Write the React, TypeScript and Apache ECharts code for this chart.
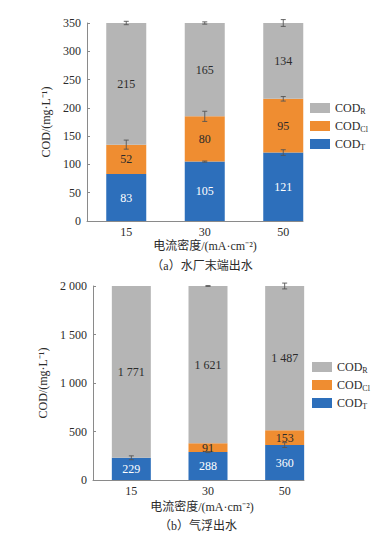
import React, { useEffect, useRef } from "react";
import * as echarts from "echarts";

const categories = ["15", "30", "50"];

// (a) 水厂末端出水
const aT = [83, 105, 121];
const aCl = [52, 80, 95];
const aR = [215, 165, 134];
const aErrT = [0, 1, 5];
const aErrCl = [8, 9, 4];
const aErrR = [3, 2, 6];
const aTicks = [0, 50, 100, 150, 200, 250, 300, 350];

// (b) 气浮出水
const bT = [229, 288, 360];
const bCl = [0, 91, 153];
const bR = [1771, 1621, 1487];
const bErrT = [20, 5, 25];
const bErrCl = [0, 0, 0];
const bErrR = [0, 4, 30];
const bTicks = [0, 500, 1000, 1500, 2000];

const xLabel = "电流密度/(mA·cm⁻²)";
const yLabel = "COD/(mg·L⁻¹)";
const titleA = "（a）水厂末端出水";
const titleB = "（b）气浮出水";

const FONT = "Liberation Serif, Times New Roman, Noto Sans CJK SC, serif";
const C_R = "#b5b5b5";
const C_CL = "#ef8d31";
const C_T = "#2d6fbb";
const AXIS = "#8a8a8a";
const TXT = "#2b2b2b";

const fmt = (v: number) => String(v).replace(/\B(?=(\d{3})+(?!\d))/g, " ");

const legendFormatter = (name: string) => {
  const sub = name.split("_")[1];
  return `{a|COD}{s|${sub}}`;
};

function buildPanel(
  gi: number,
  T: number[],
  Cl: number[],
  R: number[],
  eT: number[],
  eCl: number[],
  eR: number[],
  max: number,
  interval: number,
  barWidth: number,
  nameGap: number
) {
  const labelOf = (color: string) => ({
    show: true,
    position: "inside",
    color,
    fontFamily: FONT,
    fontSize: 12,
    formatter: (p: any) => (p.value > 0 ? fmt(p.value) : ""),
  });
  const errData: number[][] = [];
  categories.forEach((_, i) => {
    const tops = [T[i], T[i] + Cl[i], T[i] + Cl[i] + R[i]];
    const errs = [eT[i], eCl[i], eR[i]];
    tops.forEach((t, k) => {
      if (errs[k] > 0) errData.push([i, t - errs[k], t + errs[k]]);
    });
  });
  const base = { type: "bar", stack: "s" + gi, xAxisIndex: gi, yAxisIndex: gi, barWidth };
  const series = [
    { ...base, name: "COD_T", data: T, itemStyle: { color: C_T }, label: labelOf("#ffffff") },
    { ...base, name: "COD_Cl", data: Cl, itemStyle: { color: C_CL }, label: labelOf(TXT) },
    { ...base, name: "COD_R", data: R, itemStyle: { color: C_R }, label: labelOf(TXT) },
    {
      type: "custom",
      xAxisIndex: gi,
      yAxisIndex: gi,
      z: 10,
      silent: true,
      data: errData,
      encode: { x: 0, y: [1, 2] },
      renderItem: (params: any, api: any) => {
        const x = api.value(0);
        const p1 = api.coord([x, api.value(2)]);
        const p2 = api.coord([x, api.value(1)]);
        const w = 2.5;
        const st = { stroke: "#555555", lineWidth: 0.9 };
        return {
          type: "group",
          children: [
            { type: "line", shape: { x1: p1[0], y1: p1[1], x2: p2[0], y2: p2[1] }, style: st },
            { type: "line", shape: { x1: p1[0] - w, y1: p1[1], x2: p1[0] + w, y2: p1[1] }, style: st },
            { type: "line", shape: { x1: p2[0] - w, y1: p2[1], x2: p2[0] + w, y2: p2[1] }, style: st },
          ],
        };
      },
    },
  ];
  const xAxis = {
    type: "category",
    gridIndex: gi,
    data: categories,
    splitLine: { show: false },
    axisTick: { show: false },
    axisLine: { show: false },
    axisLabel: { color: TXT, fontFamily: FONT, fontSize: 12, margin: 5 },
  };
  const yAxis = {
    type: "value",
    gridIndex: gi,
    min: 0,
    max,
    interval,
    name: yLabel,
    nameLocation: "middle",
    nameGap,
    nameRotate: 90,
    nameTextStyle: { color: TXT, fontFamily: FONT, fontSize: 12 },
    splitLine: { show: false },
    axisTick: { show: true, inside: true, length: 3, lineStyle: { color: AXIS } },
    axisLine: { show: true, lineStyle: { color: AXIS, width: 1 } },
    axisLabel: { color: TXT, fontFamily: FONT, fontSize: 12, margin: 6, formatter: (v: number) => fmt(v) },
  };
  return { series, xAxis, yAxis };
}

// axis-line-only helper axes (x axis line ends at the last bar's right edge)
const lineX = (gi: number) => ({
  type: "value",
  gridIndex: gi,
  min: 0,
  max: 1,
  splitLine: { show: false },
  axisTick: { show: false },
  axisLabel: { show: false },
  axisLine: { show: true, onZero: false, lineStyle: { color: AXIS, width: 1 } },
});
const lineY = (gi: number) => ({ type: "value", gridIndex: gi, min: 0, max: 1, show: false });

export default function App() {
  const ref = useRef<HTMLDivElement>(null);
  useEffect(() => {
    if (!ref.current) return;
    const chart = echarts.init(ref.current, null, { renderer: "svg" });
    const a = buildPanel(0, aT, aCl, aR, aErrT, aErrCl, aErrR, aTicks[aTicks.length - 1], aTicks[1] - aTicks[0], 40, 35);
    const b = buildPanel(1, bT, bCl, bR, bErrT, bErrCl, bErrR, bTicks[bTicks.length - 1], bTicks[1] - bTicks[0], 39, 43);
    const legendBase = {
      orient: "vertical",
      itemWidth: 20,
      itemHeight: 10,
      itemGap: 5,
      icon: "rect",
      data: ["COD_R", "COD_Cl", "COD_T"],
      formatter: legendFormatter,
      textStyle: {
        color: TXT,
        fontFamily: FONT,
        rich: {
          a: { fontSize: 12, fontFamily: FONT, color: TXT },
          s: { fontSize: 8, fontFamily: FONT, color: TXT, verticalAlign: "bottom", padding: [6, 0, 0, 0] },
        },
      },
    };
    const titleStyle = { fill: TXT, font: `12px ${FONT}`, textAlign: "center", textVerticalAlign: "middle" };
    chart.setOption({
      animation: false,
      backgroundColor: "#ffffff",
      grid: [
        { left: 87, top: 23, width: 235.5, height: 198 },
        { left: 93, top: 286, width: 230, height: 194 },
        { left: 87, top: 23, width: 216, height: 198 },
        { left: 93, top: 286, width: 211, height: 194 },
      ],
      xAxis: [a.xAxis, b.xAxis, lineX(2), lineX(3)],
      yAxis: [a.yAxis, b.yAxis, lineY(2), lineY(3)],
      legend: [
        { ...legendBase, left: 305, top: 97 },
        { ...legendBase, left: 307, top: 356 },
      ],
      series: [...a.series, ...b.series],
      graphic: [
        { type: "text", x: 205, y: 246, style: { ...titleStyle, text: xLabel } },
        { type: "text", x: 202, y: 266, style: { ...titleStyle, text: titleA } },
        { type: "text", x: 202, y: 507, style: { ...titleStyle, text: xLabel } },
        { type: "text", x: 198, y: 526, style: { ...titleStyle, text: titleB } },
      ],
    });
    return () => chart.dispose();
  }, []);
  return <div ref={ref} style={{ position: "fixed", left: 0, top: 0, width: 389, height: 536 }} />;
}
